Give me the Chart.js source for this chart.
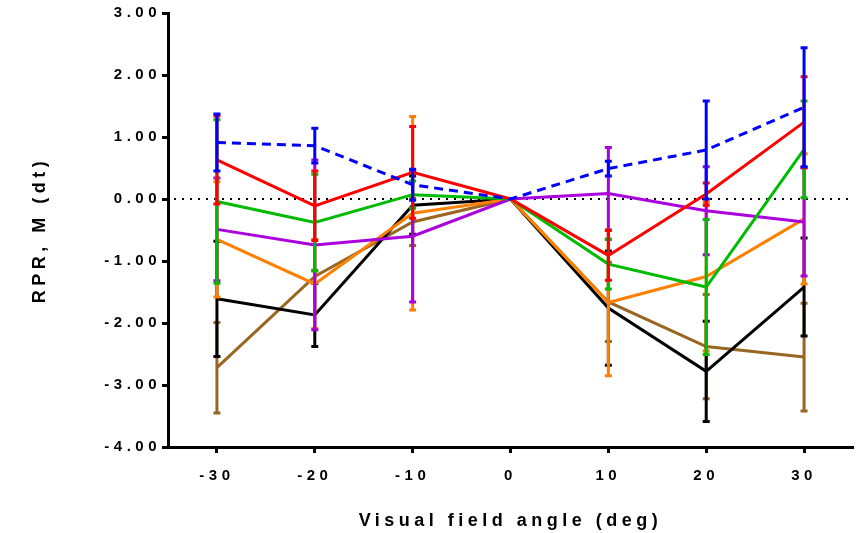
<!DOCTYPE html>
<html>
<head>
<meta charset="utf-8">
<script src="https://cdn.jsdelivr.net/npm/chart.js@4.4.1/dist/chart.umd.min.js"></script>
<style>
  body { margin: 0; background: #fff; }
</style>
</head>
<body>
<canvas id="myChart" width="866" height="533"></canvas>
<script>
// visual field angles (deg)
const angles = [-30, -20, -10, 0, 10, 20, 30];
const yTicks = [-4, -3, -2, -1, 0, 1, 2, 3];

// mean and SD per group
const blueMean   = [0.91, 0.86, 0.23, 0, 0.49, 0.79, 1.48];
const blueSd     = [0.46, 0.28, 0.25, 0, 0.12, 0.79, 0.96];
const redMean    = [0.63, -0.11, 0.43, 0, -0.91, 0.08, 1.24];
const redSd      = [0.71, 0.56, 0.74, 0, 0.40, 0.18, 0.73];
const greenMean  = [-0.04, -0.38, 0.07, 0, -1.05, -1.42, 0.80];
const greenSd    = [1.32, 0.78, 0.22, 0, 0.40, 1.09, 0.78];
const purpleMean = [-0.49, -0.74, -0.60, 0, 0.09, -0.19, -0.37];
const purpleSd   = [0.83, 1.37, 1.06, 0, 0.74, 0.71, 0.87];
const orangeMean = [-0.65, -1.37, -0.23, 0, -1.67, -1.25, -0.32];
const orangeSd   = [0.93, 0.72, 1.56, 0, 1.18, 1.20, 1.05];
const blackMean  = [-1.61, -1.87, -0.10, 0, -1.76, -2.78, -1.42];
const blackSd    = [0.93, 0.51, 0.47, 0, 0.92, 0.81, 0.79];
const brownMean  = [-2.72, -1.25, -0.37, 0, -1.66, -2.38, -2.55];
const brownSd    = [0.73, 0.10, 0.38, 0, 0.64, 0.84, 0.87];

function pts(arr) {
    return arr.map((v, i) => ({ x: angles[i], y: v }));
}

function series(mean, sd, color, dash) {
    return {
        data: pts(mean),
        sd: sd,
        borderColor: color,
        backgroundColor: color,
        borderWidth: 3,
        borderDash: dash || [],
        pointRadius: 0,
        tension: 0,
        fill: false
    };
}

// first dataset is painted last (on top)
const datasets = [
    series(blueMean, blueSd, '#0000ff', [9, 6]),
    series(redMean, redSd, '#ff0000'),
    series(greenMean, greenSd, '#00bb00'),
    series(purpleMean, purpleSd, '#aa00dd'),
    series(orangeMean, orangeSd, '#ff8000'),
    series(blackMean, blackSd, '#000000'),
    series(brownMean, brownSd, '#996622')
];

const spacing = {
    id: 'spacing',
    beforeUpdate(chart) { chart.ctx.letterSpacing = '4.5px'; },
    beforeDraw(chart) { chart.ctx.letterSpacing = '4.5px'; }
};

const zeroLine = {
    id: 'zeroLine',
    beforeDatasetsDraw(chart) {
        const ctx = chart.ctx, a = chart.chartArea;
        const y = chart.scales.y.getPixelForValue(0);
        ctx.save();
        ctx.strokeStyle = '#000';
        ctx.lineWidth = 2;
        ctx.setLineDash([2, 6]);
        ctx.beginPath();
        ctx.moveTo(a.left + 6, y);
        ctx.lineTo(a.right, y);
        ctx.stroke();
        ctx.restore();
    }
};

const errorBars = {
    id: 'errorBars',
    afterDatasetDraw(chart, args) {
        const ds = chart.data.datasets[args.index];
        const ctx = chart.ctx;
        const xs = chart.scales.x, ys = chart.scales.y;
        ctx.save();
        ctx.strokeStyle = ds.borderColor;
        ctx.lineWidth = 3;
        ctx.setLineDash([]);
        ds.data.forEach((p, i) => {
            const sd = ds.sd[i];
            if (!sd) return;
            const x = xs.getPixelForValue(p.x);
            const top = ys.getPixelForValue(p.y + sd);
            const bot = ys.getPixelForValue(p.y - sd);
            ctx.beginPath();
            ctx.moveTo(x, top);
            ctx.lineTo(x, bot);
            ctx.moveTo(x - 3.5, top);
            ctx.lineTo(x + 3.5, top);
            ctx.moveTo(x - 3.5, bot);
            ctx.lineTo(x + 3.5, bot);
            ctx.stroke();
        });
        ctx.restore();
    }
};

const tickFont = { family: 'Liberation Sans', size: 15, weight: 'bold' };
const titleFont = { family: 'Liberation Sans', size: 18, weight: 'bold' };

new Chart('myChart', {
    type: 'line',
    data: { datasets: datasets },
    options: {
        responsive: false,
        devicePixelRatio: 1,
        animation: false,
        layout: { padding: { top: 13, right: 13, left: 0, bottom: 0 } },
        plugins: { legend: { display: false }, tooltip: { enabled: false } },
        scales: {
            x: {
                type: 'linear',
                min: -35,
                max: 35,
                afterBuildTicks(scale) { scale.ticks = angles.map(v => ({ value: v })); },
                afterFit(scale) { scale.height = 86; },
                border: { display: true, color: '#000', width: 3 },
                grid: { drawOnChartArea: false, drawTicks: true, tickLength: 6, tickWidth: 3, tickColor: '#000' },
                ticks: { color: '#000', font: tickFont, padding: 14, maxRotation: 0 },
                title: { display: true, text: 'Visual field angle (deg)', color: '#000', font: titleFont, padding: { top: 0, bottom: 1 } }
            },
            y: {
                min: -4,
                max: 3,
                afterBuildTicks(scale) { scale.ticks = yTicks.map(v => ({ value: v })); },
                afterFit(scale) { scale.width = 168; },
                border: { display: true, color: '#000', width: 3 },
                grid: { drawOnChartArea: false, drawTicks: true, tickLength: 6, tickWidth: 3, tickColor: '#000' },
                ticks: { color: '#000', font: tickFont, padding: 1, callback: v => v.toFixed(2) },
                title: { display: true, text: 'RPR, M (dt)', color: '#000', font: titleFont, padding: { top: 29, bottom: 0 } }
            }
        }
    },
    plugins: [spacing, zeroLine, errorBars]
});
</script>
</body>
</html>
